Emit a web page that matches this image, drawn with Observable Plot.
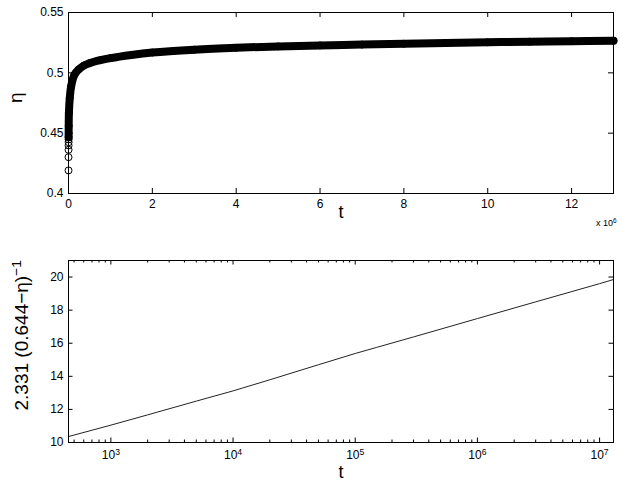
<!DOCTYPE html>
<html><head><meta charset="utf-8">
<script src="https://cdn.jsdelivr.net/npm/d3@7"></script>
<script src="https://cdn.jsdelivr.net/npm/@observablehq/plot@0.6"></script>
<style>
body{margin:0;background:#fff;}
#chart{width:622px;}
#chart svg{display:block;}
</style></head><body><div id="chart"></div>
<script>
// ---- Top panel data: eta vs t (linear t) ----
const topT = [450, 900, 1350, 1800, 2250, 2700, 3150, 5000, 1e4, 3e4, 6.4e4, 1.43e5, 2.5e5, 3.65e5, 5e5, 7.6e5, 1e6, 1.5e6, 2e6, 3e6, 4e6, 5e6, 6e6, 7e6, 8e6, 9e6, 1e7, 1.1e7, 1.2e7, 1.3e7];
const topEta = [0.4191, 0.4301, 0.4362, 0.4398, 0.4425, 0.4448, 0.4467, 0.4560, 0.4670, 0.4790, 0.4890, 0.4985, 0.5030, 0.5060, 0.5080, 0.5105, 0.5122, 0.5148, 0.5168, 0.5192, 0.5208, 0.5219, 0.5227, 0.5234, 0.5241, 0.5247, 0.5253, 0.5258, 0.5262, 0.5266];
const topXTicks = [0, 2e6, 4e6, 6e6, 8e6, 10e6, 12e6];
const topXTickLabels = ["0", "2", "4", "6", "8", "10", "12"];
const topYTicks = [0.4, 0.45, 0.5, 0.55];
const topYTickLabels = ["0.4", "0.45", "0.5", "0.55"];
const topXLabel = "t";
const topYLabel = "η";
const topXExponent = "x 10^6";

// ---- Bottom panel data: 2.331 (0.644-eta)^-1 vs t (log t) ----
const botT = [450, 1000, 2000, 5000, 1e4, 2e4, 5e4, 1e5, 1.5e5, 3e5, 1e6, 3e6, 1e7, 1.3e7];
const botV = [10.36, 11.05, 11.67, 12.50, 13.12, 13.79, 14.70, 15.38, 15.75, 16.38, 17.49, 18.50, 19.60, 19.85];
const botXTicks = [1e3, 1e4, 1e5, 1e6, 1e7];
const botXTickLabels = ["10^3", "10^4", "10^5", "10^6", "10^7"];
const botDecades = [1e2, 1e3, 1e4, 1e5, 1e6, 1e7];
const botMinorMultipliers = [2, 3, 4, 5, 6, 7, 8, 9];
const botYTicks = [10, 12, 14, 16, 18, 20];
const botYTickLabels = ["10", "12", "14", "16", "18", "20"];
const botXLabel = "t";
const botYLabel = "2.331 (0.644\u2212η)^\u22121";

const fontFamily = '"Liberation Sans", Arial, Helvetica, sans-serif';
const W = 622;

function supers(svg) {
  svg.querySelectorAll("text").forEach(t => {
    const s = t.textContent;
    if (!s.includes("^")) return;
    const [base, exp] = s.split("^");
    while (t.firstChild) t.removeChild(t.firstChild);
    const ns = "http://www.w3.org/2000/svg";
    const a = document.createElementNS(ns, "tspan");
    a.textContent = base;
    const b = document.createElementNS(ns, "tspan");
    b.textContent = exp;
    b.setAttribute("dy", "-0.45em");
    b.setAttribute("font-size", "0.72em");
    t.appendChild(a); t.appendChild(b);
  });
}

// ---- Top plot ----
const tM = {l: 68, r: 9, t: 12, b: 37};
const topH = 230;
const topIW = W - tM.l - tM.r, topIH = topH - tM.t - tM.b;
const topData = topT.map((t, i) => ({t, eta: topEta[i]}));
const bandData = topData.filter(d => d.eta >= 0.446);

const topPlot = Plot.plot({
  width: W, height: topH,
  marginLeft: tM.l, marginRight: tM.r, marginTop: tM.t, marginBottom: tM.b,
  style: {fontFamily, fontSize: "12px", background: "#fff", overflow: "visible"},
  x: {domain: [0, 13e6], axis: null},
  y: {domain: [0.4, 0.55], axis: null},
  marks: [
    Plot.line(bandData, {x: "t", y: "eta", stroke: "black", strokeWidth: 8, curve: "catmull-rom", strokeLinecap: "round", strokeLinejoin: "round"}),
    Plot.dot(topData, {x: "t", y: "eta", r: 3.5, stroke: "black", strokeWidth: 1, fill: "none"}),
    Plot.frame({stroke: "black", strokeWidth: 1}),
    Plot.tickX(topXTicks, {x: d => d, insetTop: topIH - 5, stroke: "black"}),
    Plot.tickX(topXTicks, {x: d => d, insetBottom: topIH - 5, stroke: "black"}),
    Plot.tickY(topYTicks, {y: d => d, insetRight: topIW - 5, stroke: "black"}),
    Plot.tickY(topYTicks, {y: d => d, insetLeft: topIW - 5, stroke: "black"}),
    Plot.axisX(topXTicks, {tickSize: 0, tickPadding: 6, tickFormat: d => topXTickLabels[topXTicks.indexOf(d)], label: null, fontSize: 12}),
    Plot.axisY(topYTicks, {tickSize: 0, tickPadding: 5, tickFormat: d => topYTickLabels[topYTicks.indexOf(d)], label: null, fontSize: 12}),
    Plot.text([topXLabel], {text: d => d, frameAnchor: "bottom", dy: 19, fontSize: 18, lineAnchor: "middle"}),
    Plot.text([topYLabel], {text: d => d, frameAnchor: "left", dx: -53, rotate: -90, fontSize: 19, lineAnchor: "middle"}),
    Plot.text([topXExponent], {text: d => d, frameAnchor: "bottom-right", textAnchor: "end", dx: 3, dy: 30, fontSize: 9, lineAnchor: "middle"})
  ]
});
supers(topPlot);

// ---- Bottom plot ----
const bM = {l: 68, r: 9, t: 30, b: 43};
const botH = 255;
const botIW = W - bM.l - bM.r, botIH = botH - bM.t - bM.b;
const botData = botT.map((t, i) => ({t, v: botV[i]}));
const xDomain = [450, 1.3e7];
const minorTicks = botDecades.flatMap(d => botMinorMultipliers.map(m => d * m)).filter(v => v > xDomain[0] && v < xDomain[1]);

const botPlot = Plot.plot({
  width: W, height: botH,
  marginLeft: bM.l, marginRight: bM.r, marginTop: bM.t, marginBottom: bM.b,
  style: {fontFamily, fontSize: "12px", background: "#fff", overflow: "visible"},
  x: {type: "log", domain: xDomain, axis: null},
  y: {domain: [10, 21], axis: null},
  marks: [
    Plot.line(botData, {x: "t", y: "v", stroke: "#222", strokeWidth: 1}),
    Plot.frame({stroke: "black", strokeWidth: 1}),
    Plot.tickX(botXTicks, {x: d => d, insetTop: botIH - 4.5, stroke: "black"}),
    Plot.tickX(botXTicks, {x: d => d, insetBottom: botIH - 4.5, stroke: "black"}),
    Plot.tickX(minorTicks, {x: d => d, insetTop: botIH - 2.5, stroke: "black"}),
    Plot.tickX(minorTicks, {x: d => d, insetBottom: botIH - 2.5, stroke: "black"}),
    Plot.tickY(botYTicks, {y: d => d, insetRight: botIW - 4.5, stroke: "black"}),
    Plot.tickY(botYTicks, {y: d => d, insetLeft: botIW - 4.5, stroke: "black"}),
    Plot.axisX(botXTicks, {tickSize: 0, tickPadding: 8, tickFormat: d => botXTickLabels[botXTicks.indexOf(d)], label: null, fontSize: 12}),
    Plot.axisY(botYTicks, {tickSize: 0, tickPadding: 5, tickFormat: d => botYTickLabels[botYTicks.indexOf(d)], label: null, fontSize: 12}),
    Plot.text([botXLabel], {text: d => d, frameAnchor: "bottom", dy: 30, fontSize: 18, lineAnchor: "middle"}),
    Plot.text([botYLabel], {text: d => d, frameAnchor: "left", dx: -47, dy: 59, rotate: -90, textAnchor: "start", fontSize: 19, lineAnchor: "middle"})
  ]
});
supers(botPlot);

const chart = document.getElementById("chart");
chart.appendChild(topPlot);
chart.appendChild(botPlot);
</script>
</body></html>
